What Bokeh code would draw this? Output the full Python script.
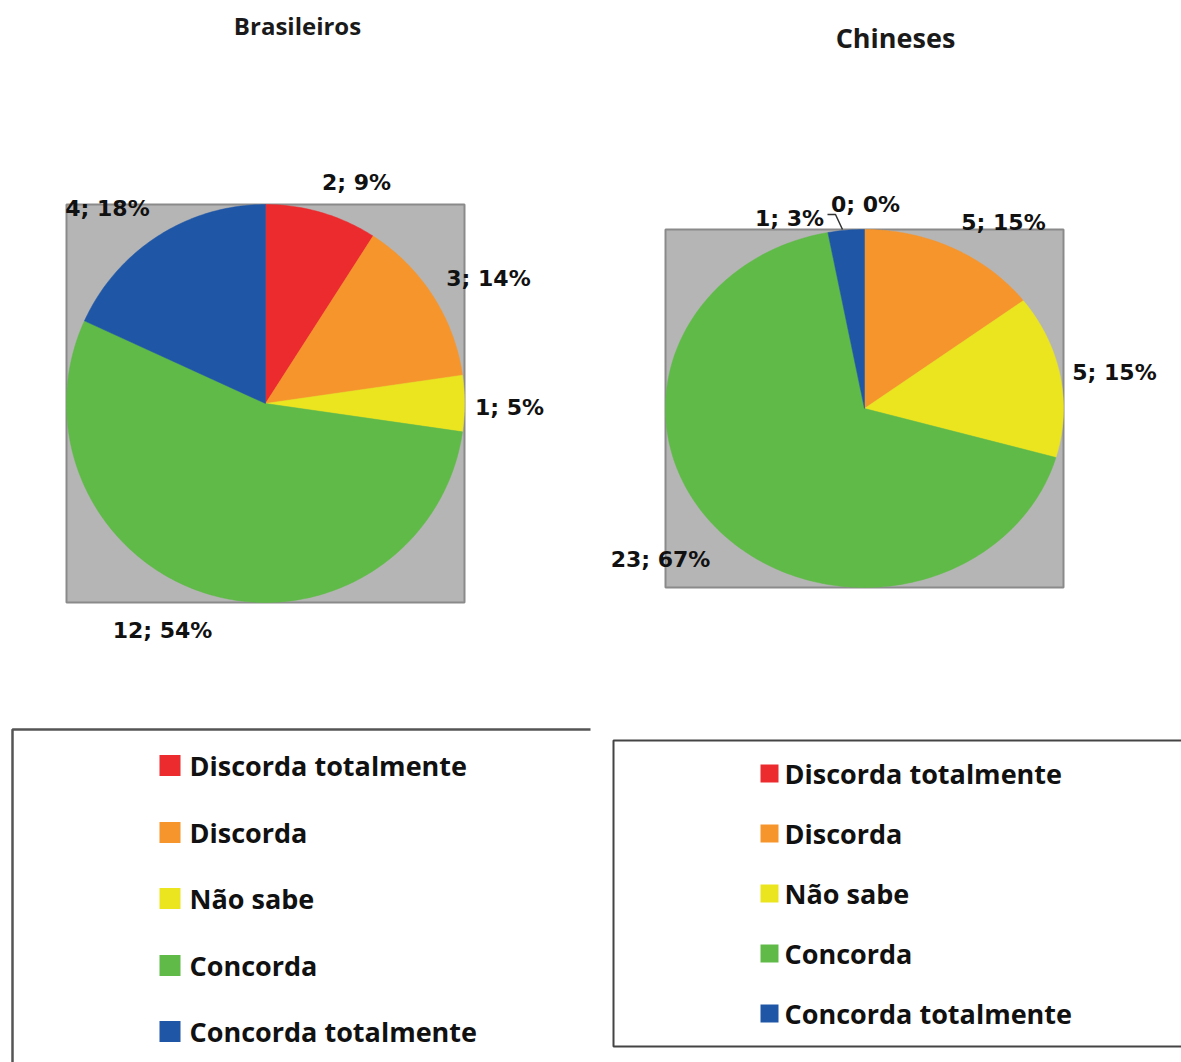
import numpy as np
from bokeh.plotting import figure
from bokeh.models import Range1d, ColumnDataSource
from bokeh.core.properties import value
from bokeh.embed import file_html
from bokeh.resources import INLINE

# ---- data ----
categories = ["Discorda totalmente", "Discorda", "Não sabe", "Concorda", "Concorda totalmente"]
slice_colors = ["#ec2b2e", "#f6952b", "#ebe520", "#5fba47", "#1f56a6"]
br_counts = [2, 3, 1, 12, 4]
br_pct = ["9%", "14%", "5%", "54%", "18%"]
cn_counts = [0, 5, 5, 23, 1]
cn_pct = ["0%", "15%", "15%", "67%", "3%"]
titles = ["Brasileiros", "Chineses"]

W, H = 1181, 1062
p = figure(width=W, height=H, output_backend="svg", toolbar_location=None,
           x_range=Range1d(0, W), y_range=Range1d(H, 0), min_border=0)
p.axis.visible = False
p.grid.visible = False
p.outline_line_color = None
p.background_fill_color = "white"
p.border_fill_color = "white"

LABEL_FONT = value("DejaVu Sans")
TEXT_FONT = value("Open Sans")


def pie(cx, cy, rx, ry, counts, pcts, label_pos, box):
    # gray plot area
    x0, y0, x1, y1 = box
    p.quad(left=[x0], right=[x1], top=[y0], bottom=[y1],
           fill_color="#b5b5b5", line_color="#8a8a8a", line_width=2)
    total = float(sum(counts))
    start = 0.0
    xs, ys, cols = [], [], []
    for c, col in zip(counts, slice_colors):
        span = c / total * 2 * np.pi
        if c > 0:
            n = max(4, int(span / (2 * np.pi) * 360))
            th = np.linspace(start, start + span, n)
            px = np.concatenate([[cx], cx + rx * np.sin(th), [cx]])
            py = np.concatenate([[cy], cy - ry * np.cos(th), [cy]])
            xs.append(list(px)); ys.append(list(py)); cols.append(col)
        start += span
    p.patches(xs=xs, ys=ys, fill_color=cols, line_color=cols, line_width=0.5)
    texts = [f"{c}; {s}" for c, s in zip(counts, pcts)]
    src = ColumnDataSource(dict(x=[q[0] for q in label_pos], y=[q[1] for q in label_pos], t=texts))
    p.text(x="x", y="y", text="t", source=src, text_font=LABEL_FONT, text_font_style="bold",
           text_font_size="22px", text_align="center", text_baseline="middle", text_color="#111111")


pie(265, 403, 199, 199, br_counts, br_pct,
    [(356, 182), (488, 278), (509, 407), (162, 630), (107, 208)],
    (66, 204, 464, 602))
pie(864, 408, 199, 179, cn_counts, cn_pct,
    [(865, 204), (1003, 222), (1114, 372), (660, 559), (789, 218)],
    (665, 229, 1063, 587))

# leader line for the 0% label
p.line(x=[827, 835, 842], y=[214, 214, 229], line_color="#333333", line_width=1.5)

# titles
p.text(x=[297], y=[25], text=titles[:1], text_font=TEXT_FONT, text_font_style="bold",
       text_font_size="24px", text_align="center", text_baseline="middle", text_color="#1a1a1a")
p.text(x=[895], y=[37], text=titles[1:], text_font=TEXT_FONT, text_font_style="bold",
       text_font_size="27px", text_align="center", text_baseline="middle", text_color="#1a1a1a")

# legend boxes
p.line(x=[12, 12, 590], y=[1062, 729, 729], line_color="#555555", line_width=2.5)
p.line(x=[1181, 613, 613, 1181], y=[740, 740, 1046, 1046], line_color="#444444", line_width=2)

# legend entries
def legend(sq_x, sq_size, text_x, rows, font_size):
    h = sq_size / 2.0
    p.quad(left=[sq_x] * 5, right=[sq_x + sq_size] * 5,
           top=[r - h for r in rows], bottom=[r + h for r in rows],
           fill_color=slice_colors, line_color=None)
    p.text(x=[text_x] * 5, y=rows, text=categories, text_font=TEXT_FONT, text_font_style="bold",
           text_font_size=font_size, text_align="left", text_baseline="middle", text_color="#111111")

legend(159, 21, 189, [765, 832, 898, 965, 1031], "27px")
legend(760, 18, 784, [773, 833, 893, 953, 1013], "27px")

open("out.html", "w").write(file_html(p, INLINE))
